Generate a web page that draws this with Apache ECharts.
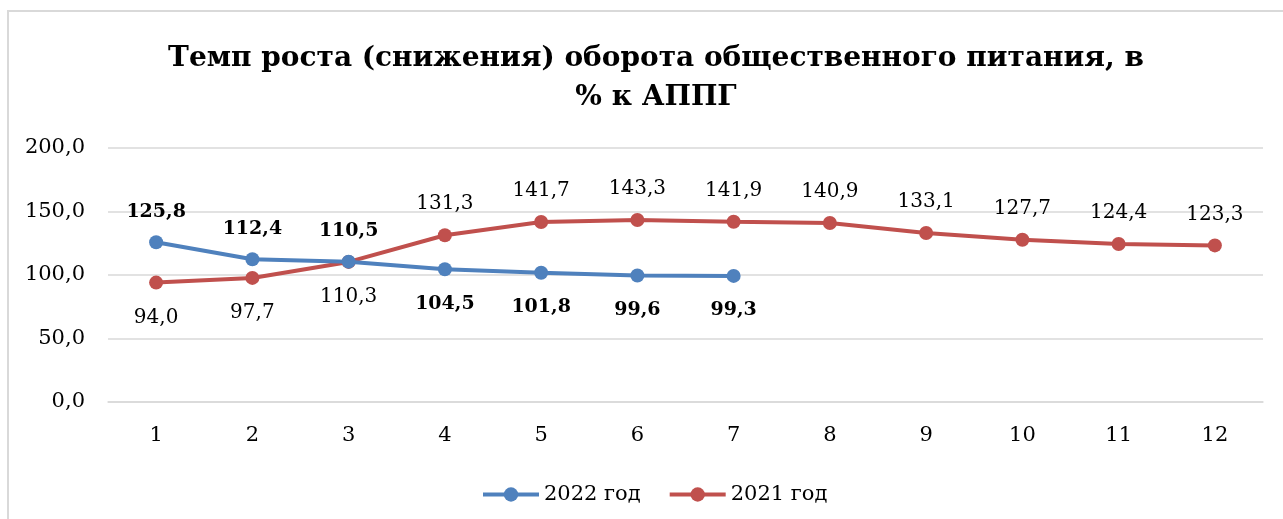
<!DOCTYPE html>
<html>
<head>
<meta charset="utf-8">
<script src="https://cdn.jsdelivr.net/npm/echarts@6/dist/echarts.min.js"></script>
<style>
  html, body { margin: 0; padding: 0; background: #fff; }
  #frame {
    position: absolute; left: 7px; top: 10px; width: 1400px; height: 600px;
    border-left: 2px solid #d9d9d9; border-top: 2px solid #d9d9d9;
  }
  #main { position: absolute; left: 0; top: 0; width: 1283px; height: 519px; }
</style>
</head>
<body>
<div id="frame"></div>
<div id="main"></div>
<script>
// месяцы
var months = ['1', '2', '3', '4', '5', '6', '7', '8', '9', '10', '11', '12'];
// темп роста, % к АППГ
var data2022 = [125.8, 112.4, 110.5, 104.5, 101.8, 99.6, 99.3];
var data2021 = [94.0, 97.7, 110.3, 131.3, 141.7, 143.3, 141.9, 140.9, 133.1, 127.7, 124.4, 123.3];
// подписи: где 2022 год выше — сверху, ниже — снизу
var pos2022 = ['top', 'top', 'top', 'bottom', 'bottom', 'bottom', 'bottom'];
var pos2021 = ['bottom', 'bottom', 'bottom', 'top', 'top', 'top', 'top', 'top', 'top', 'top', 'top', 'top'];

var fontName = 'DejaVu Serif';
var fmt = function (v) { return v.toFixed(1).replace('.', ','); };

var chart = echarts.init(document.getElementById('main'), null, {renderer: 'canvas'});

var mkData = function (vals, pos) {
    return vals.map(function (v, i) {
        return {
            value: v,
            label: {position: pos[i], distance: pos[i] === 'top' ? 14 : 18}
        };
    });
};

chart.setOption({
    backgroundColor: 'transparent',
    animation: false,
    title: {
        text: 'Темп роста (снижения) оборота общественного питания, в\n% к АППГ',
        left: 651,
        top: 34,
        textAlign: 'center',
        textStyle: {
            fontFamily: fontName,
            fontWeight: 'bold',
            fontSize: 28,
            lineHeight: 39,
            color: '#000'
        }
    },
    legend: {
        top: 479,
        left: 476,
        itemWidth: 56,
        itemHeight: 18,
        itemGap: 27,
        lineStyle: {width: 4},
        textStyle: {fontFamily: fontName, fontSize: 21, color: '#000'},
        data: ['2022 год', '2021 год']
    },
    grid: {left: 108, right: 20, top: 148, bottom: 117, containLabel: false},
    xAxis: {
        type: 'category',
        data: months,
        boundaryGap: true,
        axisLine: {lineStyle: {color: '#d9d9d9', width: 1.5}},
        axisTick: {show: false},
        axisLabel: {fontFamily: fontName, fontSize: 21, color: '#000', margin: 23}
    },
    yAxis: {
        type: 'value',
        min: 0,
        max: 200,
        interval: 50,
        axisLine: {show: false},
        axisTick: {show: false},
        splitLine: {lineStyle: {color: '#d9d9d9', width: 1.5}},
        axisLabel: {
            fontFamily: fontName, fontSize: 21, color: '#000', margin: 23,
            formatter: fmt
        }
    },
    series: [
        {
            name: '2022 год',
            type: 'line',
            data: mkData(data2022, pos2022),
            color: '#4f81bd',
            symbol: 'circle',
            symbolSize: 14,
            lineStyle: {width: 4, color: '#4f81bd'},
            itemStyle: {color: '#4f81bd'},
            label: {
                show: true,
                fontFamily: fontName,
                fontWeight: 'bold',
                fontSize: 19,
                color: '#000',
                formatter: function (p) { return fmt(p.value); }
            },
            z: 3
        },
        {
            name: '2021 год',
            type: 'line',
            data: mkData(data2021, pos2021),
            color: '#c0504d',
            symbol: 'circle',
            symbolSize: 14,
            lineStyle: {width: 4, color: '#c0504d'},
            itemStyle: {color: '#c0504d'},
            label: {
                show: true,
                fontFamily: fontName,
                fontSize: 20,
                color: '#000',
                formatter: function (p) { return fmt(p.value); }
            },
            z: 2
        }
    ]
});
</script>
</body>
</html>
